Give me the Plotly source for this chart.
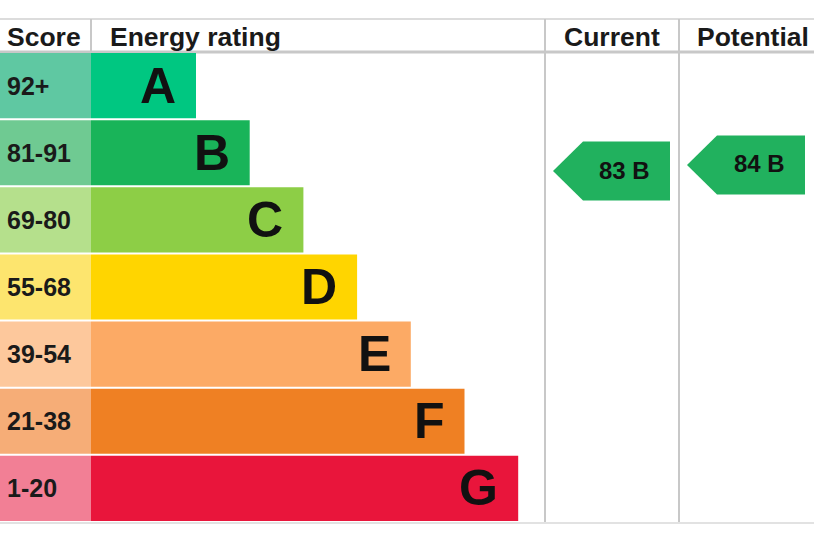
import plotly.graph_objects as go

# ---- data ----
bands = ["A", "B", "C", "D", "E", "F", "G"]
score_labels = ["92+", "81-91", "69-80", "55-68", "39-54", "21-38", "1-20"]
band_low = [92, 81, 69, 55, 39, 21, 1]
band_high = [100, 91, 80, 68, 54, 38, 20]
bar_colors = ["#00c781", "#19b459", "#8dce46", "#ffd500", "#fcaa65", "#ef8023", "#e9153b"]
cell_colors = ["#5fc8a2", "#6fca92", "#b5e08c", "#fde56e", "#fdc89c", "#f6ad77", "#f27f95"]
headers = ["Score", "Energy rating", "Current", "Potential"]
current_score, current_band = 83, "B"
potential_score, potential_band = 84, "B"
arrow_color = "#21b15e"

# ---- layout geometry (pixel-like data units) ----
W, H = 814, 542
top_line, head_bottom, table_bottom = 19, 52, 522
score_w = 91
col_cur = (545, 679)
col_pot = (679, 814)
n = len(bands)
row_h = (table_bottom - head_bottom) / n
bar_first = 105
bar_step = 53.7

row_top = [head_bottom + i * row_h for i in range(n)]
row_mid = [t + row_h / 2 for t in row_top]
bar_len = [bar_first + bar_step * i for i in range(n)]

fig = go.Figure()

# score cells
fig.add_trace(go.Bar(
    orientation="h", y=row_mid, x=[score_w] * n, base=0,
    width=row_h - 2, marker=dict(color=cell_colors, line=dict(width=0)),
    hoverinfo="skip", showlegend=False))
# rating bars
fig.add_trace(go.Bar(
    orientation="h", y=row_mid, x=bar_len, base=score_w,
    width=row_h - 2, marker=dict(color=bar_colors, line=dict(width=0)),
    hoverinfo="skip", showlegend=False))

annotations = []
font = "Liberation Sans, Arial, sans-serif"
for i in range(n):
    annotations.append(dict(x=score_w + bar_len[i] - 18, y=row_mid[i], text="<b>%s</b>" % bands[i],
                            xanchor="right", yanchor="middle", showarrow=False,
                            font=dict(family=font, size=50, color="#111")))
    annotations.append(dict(x=5, y=row_mid[i], text="<b>%s</b>" % score_labels[i],
                            xanchor="left", yanchor="middle", showarrow=False,
                            font=dict(family=font, size=25, color="#1a1a1a")))


def score_y(score, band):
    i = bands.index(band)
    lo, hi = band_low[i], band_high[i]
    return row_top[i] + (hi + 0.5 - score) / (hi - lo + 1) * row_h


def add_arrow(col, score, band):
    yc = score_y(score, band)
    tip = col[0] + 8
    right = col[1] - 9
    body = tip + 30
    hh = 29.5
    xs = [tip, body, right, right, body, tip]
    ys = [yc, yc - hh, yc - hh, yc + hh, yc + hh, yc]
    fig.add_trace(go.Scatter(x=xs, y=ys, fill="toself", fillcolor=arrow_color,
                             mode="lines", line=dict(width=0, color=arrow_color),
                             hoverinfo="skip", showlegend=False))
    annotations.append(dict(x=(body + right) / 2 - 2, y=yc - 1, text="<b>%d %s</b>" % (score, band),
                            xanchor="center", yanchor="middle", showarrow=False,
                            font=dict(family=font, size=24, color="#111")))


add_arrow(col_cur, current_score, current_band)
add_arrow(col_pot, potential_score, potential_band)

# headers
head_mid = (top_line + head_bottom) / 2
hdr_x = [5, 108, (col_cur[0] + col_cur[1]) / 2, (col_pot[0] + col_pot[1]) / 2 + 6]
hdr_anchor = ["left", "left", "center", "center"]
for t, x, a in zip(headers, hdr_x, hdr_anchor):
    annotations.append(dict(x=x, y=head_mid + 1, text="<b>%s</b>" % t, xanchor=a, yanchor="middle",
                            showarrow=False, font=dict(family=font, size=26.5, color="#1a1a1a")))

grid = "#c8c8c8"
shapes = [
    dict(type="line", x0=0, x1=W, y0=top_line, y1=top_line, line=dict(color="#dcdcdc", width=2), layer="below"),
    dict(type="line", x0=0, x1=W, y0=head_bottom, y1=head_bottom, line=dict(color=grid, width=3), layer="below"),
    dict(type="line", x0=score_w, x1=score_w, y0=top_line, y1=head_bottom, line=dict(color=grid, width=2), layer="below"),
    dict(type="line", x0=col_cur[0], x1=col_cur[0], y0=top_line, y1=table_bottom, line=dict(color=grid, width=2), layer="below"),
    dict(type="line", x0=col_pot[0], x1=col_pot[0], y0=top_line, y1=table_bottom, line=dict(color=grid, width=2), layer="below"),
    dict(type="line", x0=0, x1=W, y0=table_bottom + 1, y1=table_bottom + 1, line=dict(color="#e2e2e2", width=2), layer="below"),
]

fig.update_layout(
    width=W, height=H, autosize=False,
    margin=dict(l=0, r=0, t=0, b=0),
    paper_bgcolor="white", plot_bgcolor="white",
    xaxis=dict(range=[0, W], visible=False, fixedrange=True),
    yaxis=dict(range=[H, 0], visible=False, fixedrange=True),
    annotations=annotations, shapes=shapes, barmode="overlay",
)

fig.write_html("out.html", config={"displayModeBar": False, "staticPlot": True},
               post_script="document.body.style.margin='0';document.body.style.overflow='hidden';")
